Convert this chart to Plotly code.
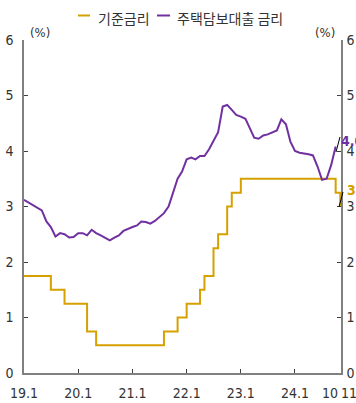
import pandas as pd
import plotly.graph_objects as go

months = pd.date_range("2019-01-01", "2024-11-01", freq="MS")

base_rate = (
    [1.75] * 6 + [1.50] * 3 + [1.25] * 5 + [0.75] * 2 + [0.50] * 15 +
    [0.75] * 3 + [1.00] * 2 + [1.25] * 3 + [1.50] + [1.75] * 2 + [2.25] +
    [2.50] * 2 + [3.00] + [3.25] * 2 + [3.50] * 21 + [3.25] + [3.00]
)

mortgage_rate = [
    3.12, 3.07, 3.02, 2.97, 2.93, 2.73, 2.63, 2.46, 2.52, 2.50, 2.44, 2.45,
    2.52, 2.52, 2.48, 2.58, 2.52, 2.48, 2.44, 2.39, 2.44, 2.48, 2.56, 2.60,
    2.63, 2.66, 2.73, 2.72, 2.69, 2.74, 2.81, 2.88, 3.00, 3.24, 3.50, 3.63,
    3.85, 3.88, 3.85, 3.91, 3.91, 4.03, 4.18, 4.34, 4.80, 4.83, 4.74, 4.65,
    4.62, 4.58, 4.42, 4.24, 4.22, 4.28, 4.30, 4.33, 4.37, 4.57, 4.48, 4.17,
    4.00, 3.97, 3.96, 3.94, 3.92, 3.72, 3.48, 3.50, 3.75, 4.08,
]

series_names = ["기준금리", "주택담보대출 금리"]
x_tick_dates = ["2019-01-01", "2020-01-01", "2021-01-01", "2022-01-01", "2023-01-01", "2024-01-01"]
x_tick_text = ["19.1", "20.1", "21.1", "22.1", "23.1", "24.1"]
extra_month_labels = ["10", "11"]
y_ticks = [0, 1, 2, 3, 4, 5, 6]
end_labels = ["4.08", "3.00"]

GOLD = "#D6A100"
PURPLE = "#7030A0"
NUM_FONT = "Liberation Sans Narrow, Arial Narrow, DejaVu Sans Condensed, Liberation Sans, sans-serif"
KR_FONT = "Noto Sans CJK KR, sans-serif"
TXT = "#333333"

fig = go.Figure()
fig.add_trace(go.Scatter(x=months, y=base_rate, mode="lines", line=dict(color=GOLD, width=2, shape="hv"),
                         name=series_names[0], showlegend=False))
fig.add_trace(go.Scatter(x=months[:len(mortgage_rate)], y=mortgage_rate, mode="lines",
                         line=dict(color=PURPLE, width=2), name=series_names[1], showlegend=False))
fig.add_trace(go.Scatter(x=[months[0]], y=[None], yaxis="y2", showlegend=False, hoverinfo="skip"))

def axis_common(standoff):
    return dict(showgrid=False, zeroline=False, showline=True, linecolor="#808080", linewidth=1.5,
                ticks="inside", ticklen=4, tickcolor="#404040", tickwidth=1,
                ticklabelstandoff=standoff, automargin=False,
                tickfont=dict(family=NUM_FONT, size=14, color=TXT))

fig.update_layout(
    width=356, height=403,
    margin=dict(l=24, r=15, t=40, b=30),
    paper_bgcolor="white", plot_bgcolor="white",
    xaxis=dict(range=[months[0], "2024-11-06"], tickvals=x_tick_dates, ticktext=x_tick_text, **axis_common(6)),
    yaxis=dict(range=[0, 6], tickvals=y_ticks, **axis_common(6)),
    yaxis2=dict(range=[0, 6], tickvals=y_ticks, overlaying="y", side="right", **axis_common(1)),
)

# manual legend
legend_items = [(0.1703, 0.2082, 0.2271, GOLD, series_names[0]),
                (0.4196, 0.4606, 0.4763, PURPLE, series_names[1])]
for x0, x1, xt, col, txt in legend_items:
    fig.add_shape(type="line", xref="paper", yref="paper", x0=x0, x1=x1, y0=1.0736, y1=1.0736,
                  line=dict(color=col, width=2))
    fig.add_annotation(xref="paper", yref="paper", x=xt, y=1.067, xanchor="left", yanchor="middle",
                       text=txt, showarrow=False, font=dict(family=KR_FONT, size=14, color=TXT))

for xp in [0.0505, 0.9495]:
    fig.add_annotation(xref="paper", yref="paper", x=xp, y=1.024, xanchor="center", yanchor="middle",
                       text="(%)", showarrow=False, font=dict(family=NUM_FONT, size=13, color=TXT))

for xp, txt in zip([0.9653, 1.0252], extra_month_labels):
    fig.add_annotation(xref="paper", yref="paper", x=xp, y=-0.06, xanchor="center", yanchor="middle",
                       text=txt, showarrow=False, font=dict(family=NUM_FONT, size=14, color=TXT))

# end value labels with leader lines
fig.add_shape(type="line", xref="paper", yref="paper", x0=0.9842, y0=0.6637, x1=0.9968, y1=0.7087,
              line=dict(color="black", width=1))
fig.add_shape(type="line", xref="paper", yref="paper", x0=0.9937, y0=0.4985, x1=1.0063, y1=0.5435,
              line=dict(color="black", width=1))
fig.add_annotation(xref="paper", yref="paper", x=1.0063, y=0.6967, xanchor="left", yanchor="middle",
                   xshift=-4, text="<b>%s</b>" % end_labels[0], showarrow=False,
                   font=dict(family=NUM_FONT, size=14, color=PURPLE))
fig.add_annotation(xref="paper", yref="paper", x=1.022, y=0.5495, xanchor="left", yanchor="middle",
                   xshift=-3, text="<b>%s</b>" % end_labels[1], showarrow=False,
                   font=dict(family=NUM_FONT, size=14, color=GOLD))

fig.write_html("out.html")
